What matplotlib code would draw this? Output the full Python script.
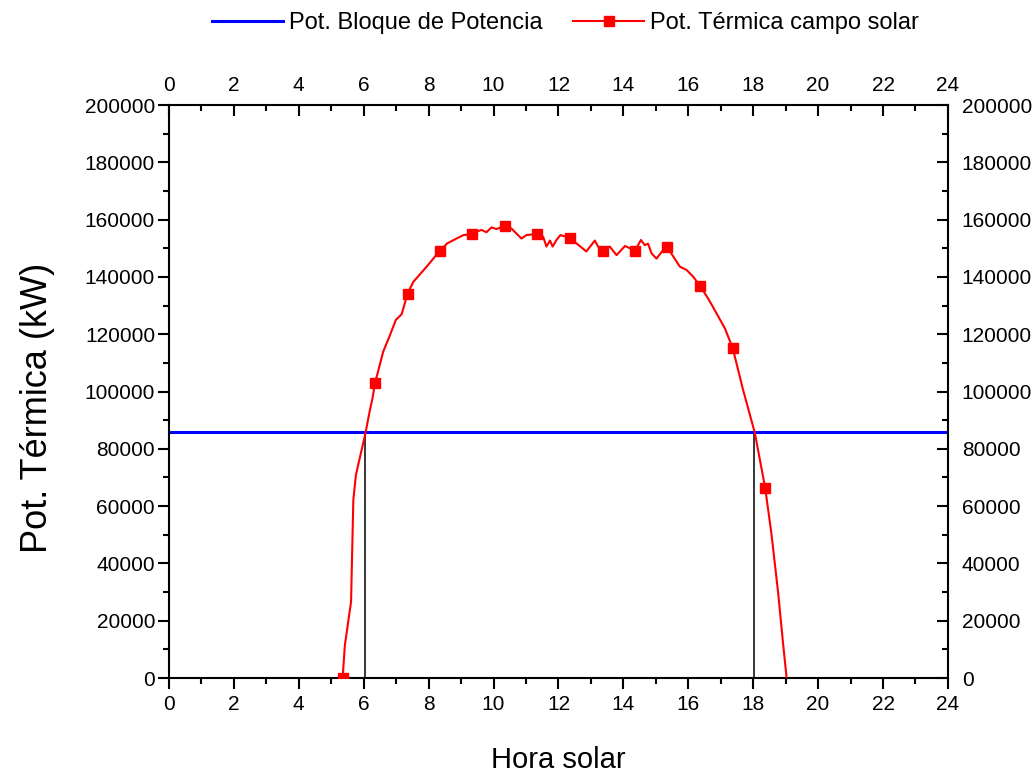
import numpy as np
import matplotlib
matplotlib.use("Agg")
import matplotlib.pyplot as plt
from matplotlib.ticker import MultipleLocator
from matplotlib.transforms import ScaledTranslation

plt.rcParams['font.family'] = ['Liberation Sans Narrow', 'Liberation Sans', 'DejaVu Sans']

# datos
hora = [5.35, 5.42, 5.61, 5.68, 5.76, 6.06, 6.19, 6.27, 6.35, 6.60, 6.81, 6.99, 7.17,
        7.35, 7.53, 7.94, 8.35, 8.57, 8.86, 9.07, 9.35, 9.47, 9.63, 9.78, 9.94, 10.09,
        10.35, 10.55, 10.86, 11.01, 11.35, 11.53, 11.63, 11.74, 11.82, 11.94, 12.06,
        12.35, 12.86, 13.12, 13.22, 13.36, 13.58, 13.79, 14.05, 14.36, 14.54, 14.66,
        14.76, 14.87, 15.02, 15.20, 15.35, 15.74, 15.95, 16.15, 16.36, 16.61, 16.87,
        17.13, 17.37, 17.69, 18.05, 18.37, 18.56, 18.77, 18.92, 19.03]
pot_termica = [0, 11500, 26600, 62100, 70900, 85800, 93500, 97600, 103000, 113900,
               119700, 125000, 127000, 134200, 138300, 143600, 149200, 151700, 153400,
               154600, 155000, 155800, 156400, 155600, 157300, 156700, 157900, 156900,
               153400, 154600, 155000, 154000, 150600, 152700, 150600, 152900, 154600,
               153600, 148900, 152700, 150600, 149200, 150600, 147600, 150800, 149200,
               152900, 151100, 151600, 148200, 146400, 149000, 150400, 143600, 142400,
               140100, 136900, 132500, 127300, 122000, 115100, 100500, 85600, 66300,
               50500, 29600, 12100, 0]
horas_marcador = [5.35, 6.35, 7.35, 8.35, 9.35, 10.35, 11.35, 12.35, 13.36, 14.36,
                  15.35, 16.36, 17.37, 18.37]
pot_bloque = 86000
hora_corte = [6.05, 18.03]

marcas = [i for i, h in enumerate(hora) if h in horas_marcador]

fig = plt.figure(figsize=(10.36, 7.74), dpi=100)
ax = fig.add_axes([0.1631, 0.124, 0.7519, 0.7403])

ax.axhline(pot_bloque, color='#0000ff', lw=2.2, label='Pot. Bloque de Potencia', zorder=2)
ax.plot(hora, pot_termica, color='#ff0000', lw=1.5, marker='s', ms=7,
        markevery=marcas, label='Pot. Térmica campo solar', zorder=3)
for h in hora_corte:
    ax.plot([h, h], [0, pot_bloque], color='black', lw=1.1, zorder=1)

ax.set_xlim(0, 24)
ax.set_ylim(0, 200000)
ax.xaxis.set_major_locator(MultipleLocator(2))
ax.xaxis.set_minor_locator(MultipleLocator(1))
ax.yaxis.set_major_locator(MultipleLocator(20000))
ax.yaxis.set_minor_locator(MultipleLocator(10000))

ax.tick_params(which='both', labelsize=15, width=1.5, top=True, right=True,
               labeltop=True, labelright=True)
ax.tick_params(which='major', length=8)
ax.tick_params(which='minor', length=4.5)
ax.tick_params(axis='x', which='both', direction='out', pad=4)
ax.tick_params(axis='y', which='both', direction='out', pad=2)
# arriba y derecha las marcas van hacia dentro
bajar = ScaledTranslation(0, -4.5 / 72, fig.dpi_scale_trans)
for t in ax.xaxis.get_major_ticks() + ax.xaxis.get_minor_ticks():
    t.tick2line.set_marker(matplotlib.lines.TICKDOWN)
for t in ax.xaxis.get_major_ticks():
    t.label2.set_transform(t.label2.get_transform() + bajar)
for t in ax.yaxis.get_major_ticks() + ax.yaxis.get_minor_ticks():
    t.tick2line.set_marker(matplotlib.lines.TICKLEFT)

for s in ax.spines.values():
    s.set_linewidth(1.5)

ax.set_xlabel('Hora solar', fontsize=21, labelpad=23)
ax.set_ylabel('Pot. Térmica (kW)', fontsize=26)
ax.yaxis.set_label_coords(-0.146, 0.471)

fig.legend(loc='upper center', bbox_to_anchor=(0.546, 1.012), ncol=2, frameon=False,
           fontsize=17, handlelength=3, columnspacing=1.3, handletextpad=0.25)

fig.savefig('out.png', dpi=100)
